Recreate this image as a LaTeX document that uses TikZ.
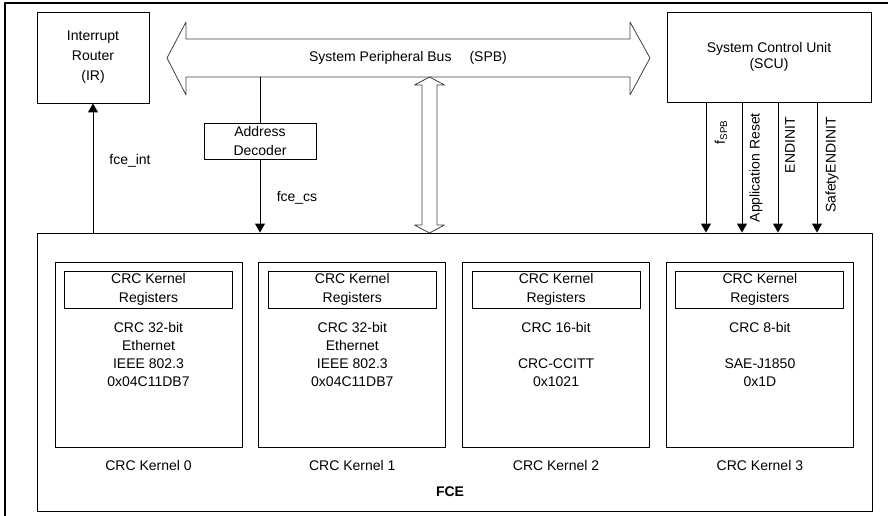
\documentclass[tikz,border=0pt]{standalone}
\usepackage{fontspec}
\setmainfont{Liberation Sans}
\usetikzlibrary{arrows.meta}
\usetikzlibrary{positioning}

\tikzset{
  blk/.style={draw, line width=0.9pt, inner sep=0pt, align=center},
  sig/.style={line width=0.9pt, -{Triangle[width=10pt,length=9pt]}},
  txt/.style={inner sep=0pt, align=center},
  busline/.style={line width=0.8pt, draw=black!75},
}

\begin{document}
\begin{tikzpicture}[line cap=round,line join=round,x=1pt,y=-1pt,font=\fontsize{14}{17}\selectfont]
\useasboundingbox (0,0) rectangle (888,516);
\draw [line width=1.6pt] (5,530) -- (5,3) -- (900,3);
% top row
\node[blk, minimum width=112, minimum height=91, font=\fontsize{14}{20}\selectfont] (ir) at (93,57.5) {Interrupt\\Router\\(IR)};
\node[blk, minimum width=204, minimum height=90, font=\fontsize{14}{16}\selectfont] (scu) at (769,57) {System Control Unit\\(SCU)};
\draw [busline] (167,58) -- (186,22) -- (186,39) -- (630,39) -- (630,22) -- (650,58) -- (630,95) -- (630,77) -- (186,77) -- (186,95) -- cycle;
\node[txt] (spb) at (408,58) {System Peripheral Bus\hspace{18pt}(SPB)};
\coordinate (busdec) at (260,77);
\node[blk, minimum width=112, minimum height=36, font=\fontsize{14}{19}\selectfont] (dec) at (260,141) {Address\\Decoder};
% FCE
\node[blk, minimum width=835, minimum height=278] (fce) at (454.5,372) {};
\node[txt, font=\fontsize{14}{17}\selectfont\bfseries] (fcelbl) at (450,492) {FCE};
\draw [busline] (429.5,77) -- (444.5,85) -- (437,85) -- (437,225) -- (444.5,225) -- (429.5,233) -- (414.5,225) -- (422,225) -- (422,85) -- (414.5,85) -- cycle;
% signals
\draw [sig] (fce.north -| ir.south) -- (ir.south);
\node[txt] (fceint) at (130,161) {fce\_int};
\draw [line width=0.9pt] (busdec) -- (dec.north);
\draw [sig] (dec.south) -- (dec.south |- fce.north);
\node[txt] (fcecs) at (297,198) {fce\_cs};
\foreach \n/\x in {1/706,2/742,3/778,4/817}{
  \coordinate (s\n) at (\x,0);
  \draw [sig] (scu.south -| s\n) -- (fce.north -| s\n);
}
\node[txt, rotate=90, anchor=east] (fspb) at (721,120) {f\textsubscript{SPB}};
\node[txt, rotate=90, anchor=east] (apprst) at (756,113) {Application Reset};
\node[txt, rotate=90, anchor=east] (endinit) at (790,117) {ENDINIT};
\node[txt, rotate=90, anchor=east] (safety) at (832,117) {SafetyENDINIT};
% kernels
\foreach \i/\body in {0/{CRC 32-bit\\Ethernet\\IEEE 802.3\\0x04C11DB7},1/{CRC 32-bit\\Ethernet\\IEEE 802.3\\0x04C11DB7},2/{CRC 16-bit\\\mbox{}\\CRC-CCITT\\0x1021},3/{CRC 8-bit\\\mbox{}\\SAE-J1850\\0x1D}}{
  \node[blk, minimum width=187, minimum height=185] (k\i) at ({148.5+203.8*\i},354.5) {};
  \node[blk, minimum width=168, minimum height=37, font=\fontsize{14}{19}\selectfont] (reg\i) at ({148.5+203.8*\i},289.5) {CRC Kernel\\Registers};
  \node[txt, font=\fontsize{14}{18}\selectfont] (body\i) at ({148.5+203.8*\i},354) {\body};
  \node[txt] (cap\i) at ({148.5+203.8*\i},465) {CRC Kernel \i};
}
\end{tikzpicture}
\end{document}
